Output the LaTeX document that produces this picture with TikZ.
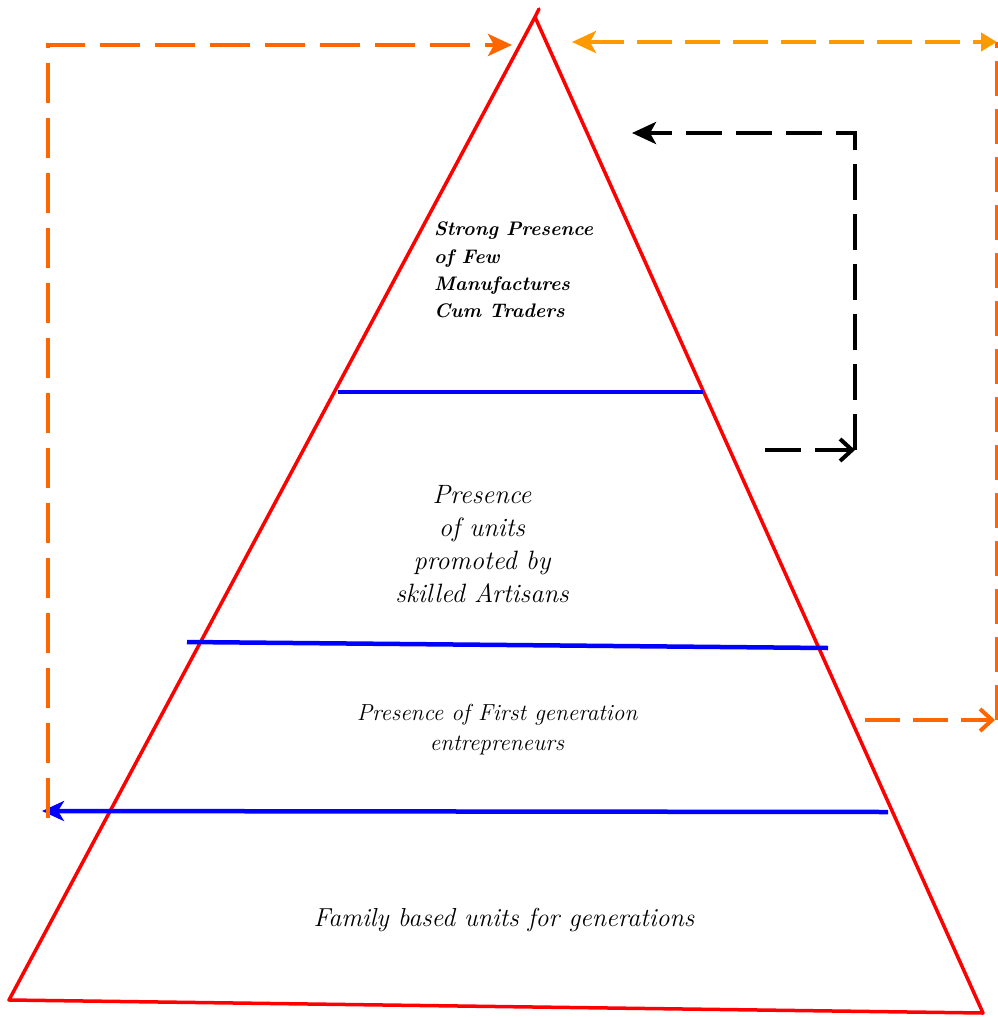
\documentclass[tikz,border=0pt]{standalone}
\usepackage{fontspec}
\setmainfont{Latin Modern Roman}
\usetikzlibrary{arrows.meta}
\definecolor{pyred}{HTML}{FF0000}
\definecolor{pyblue}{HTML}{0000FF}
\definecolor{darkorange}{HTML}{FF6600}
\definecolor{lightorange}{HTML}{FF9900}
\begin{document}
\begin{tikzpicture}[x=1pt,y=-1pt,
  edge/.style={draw=pyred,line width=3.5pt,line join=round,line cap=round},
  layer/.style={draw=pyblue,line width=4.5pt},
  feedback/.style={line width=4pt,dash pattern=on 40pt off 15pt},
  loopline/.style={draw=black,line width=4pt,dash pattern=on 36pt off 14pt},
  tier/.style={align=center,inner sep=0pt,font=\itshape\fontsize{26.5}{33}\selectfont},
  apextier/.style={align=left,inner sep=0pt,font=\bfseries\itshape\fontsize{19.6}{27.3}\selectfont}]
\useasboundingbox (0,0) rectangle (998,1017);

% pyramid outline
\coordinate (tip) at (539,9);
\coordinate (apex) at (535,17);
\coordinate (bl) at (9,1000);
\coordinate (br) at (983,1013);
\draw[edge] (tip) -- (apex) -- (bl) -- (br) -- (apex);

% tier boundaries
\coordinate (b1l) at (338,392);  \coordinate (b1r) at (703,392);
\coordinate (b2l) at (187,642);  \coordinate (b2r) at (828,648);
\coordinate (b3l) at (42,811);   \coordinate (b3r) at (888,812);
\draw[layer] (b1l) -- (b1r);
\draw[layer] (b2l) -- (b2r);
\draw[layer,-{Stealth[length=22pt,width=20pt,inset=6pt]}] (b3r) -- (b3l);

% tier labels
\node[apextier,anchor=north west] (t1) at (434,222) {Strong Presence\\of Few\\Manufactures\\Cum Traders};
\node[tier] (t2) at (482,544) {Presence\\of units\\promoted by\\skilled Artisans};
\node[tier,font=\itshape\fontsize{23.2}{30}\selectfont] (t3) at (497,730) {Presence of First generation\\entrepreneurs};
\node[tier,font=\itshape\fontsize{26}{33}\selectfont] (t4) at (504,920) {Family based units for generations};

% left feedback loop
\coordinate (lb) at (48,818);
\coordinate (lt) at (48,45);
\coordinate (la) at (512,45);
\draw[feedback,draw=darkorange,-{Stealth[length=24pt,width=22pt,inset=6pt]}] (lb) -- (lt) -- (la);

% right feedback loop
\coordinate (rs) at (865,720);
\coordinate (rc) at (997,720);
\coordinate (rt) at (997,42);
\coordinate (ra) at (572,42);
\draw[feedback,draw=darkorange,dash pattern=on 35pt off 13pt] (rc) -- (rt);
\draw[feedback,draw=darkorange,dash pattern=on 35pt off 13pt,-{Straight Barb[length=12pt,width=22pt,line width=4pt]}] (rs) -- (995,720);
\draw[feedback,draw=lightorange,dash pattern=on 35pt off 13pt,{Stealth[length=24pt,width=22pt,inset=6pt]}-{Stealth[length=16pt,width=18pt,inset=0pt]}] (ra) -- (rt);

% inner loop
\coordinate (ks) at (765,450);
\coordinate (kc) at (855,450);
\coordinate (kt) at (855,133);
\coordinate (ka) at (632,133);
\draw[loopline,-{Straight Barb[length=12pt,width=22pt,line width=4pt]}] (ks) -- (kc);
\draw[loopline,-{Stealth[length=24pt,width=22pt,inset=6pt]}] (kc) -- (kt) -- (ka);
\end{tikzpicture}
\end{document}
